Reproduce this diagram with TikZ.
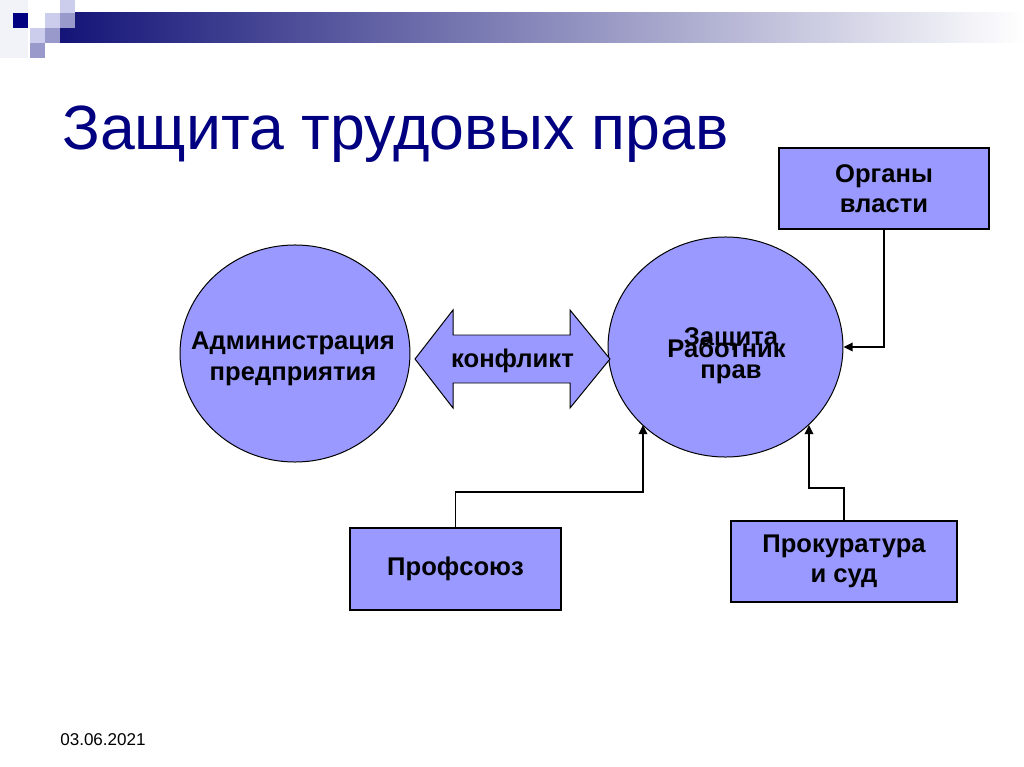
\documentclass[tikz,border=0pt]{standalone}
\usepackage{fontspec}
\setmainfont{Liberation Sans}
\usetikzlibrary{shapes.geometric, arrows.meta}

\definecolor{navy}{RGB}{0,0,128}
\definecolor{lilac}{RGB}{153,153,255}
\definecolor{sqlight}{RGB}{204,204,236}
\definecolor{sqmid}{RGB}{153,153,204}
\definecolor{bardark}{RGB}{20,20,120}
\definecolor{barmid}{RGB}{160,160,186}

\begin{document}
\begin{tikzpicture}[x=0.703125pt, y=-0.703125pt,
  ball/.style={draw=black, line width=0.7pt, fill=lilac, ellipse, inner sep=0pt},
  box/.style={draw=black, line width=0.8pt, fill=lilac, rectangle, inner sep=0pt, align=center,
    font=\bfseries\fontsize{18}{21.5}\selectfont},
  lbl/.style={align=center, inner sep=0pt, font=\bfseries\fontsize{18}{21.5}\selectfont},
  conn/.style={draw=black, line width=1.3pt, -{Triangle[length=6.5pt, width=6pt]}}]
  \useasboundingbox (0,0) rectangle (1024,767);

  % Banner
  \fill[navy!5] (0,0) rectangle (28,58);
  \shade[left color=bardark, middle color=barmid, right color=white] (60,13) rectangle (1024,43);
  \fill[navy] (13,13) rectangle (28,28);
  \fill[sqlight] (45,13) rectangle (60,28);
  \fill[sqlight] (60,0) rectangle (75,13);
  \fill[sqmid] (60,13) rectangle (75,28);
  \fill[sqlight] (30,28) rectangle (45,43);
  \fill[sqmid] (45,28) rectangle (60,43);
  \fill[sqmid] (30,43) rectangle (45,58);

  % Title
  \node[anchor=base west, inner sep=0pt, text=navy, font=\fontsize{44}{50}\selectfont]
    (title) at (62,150) {Защита трудовых прав};

  % Circles
  \node[ball, minimum width=161.7pt, minimum height=152.6pt] (adm) at (295,353.5) {};
  \node[lbl] (admtxt) at (293,359) {Администрация\\предприятия};
  \node[ball, minimum width=165.2pt, minimum height=154.7pt] (rab) at (725.5,347) {};
  \node[lbl, anchor=base] (rabtxt) at (726.5,357) {Работник};
  \node[lbl] (zashtxt) at (731,356) {Защита\\[1.5pt]прав};

  % Conflict arrow
  \draw[black, line width=0.7pt, fill=lilac]
     (415,359) -- (453,310) -- (453,335) -- (570,335) -- (570,310) -- (610,359)
     -- (570,408) -- (570,383) -- (453,383) -- (453,408) -- cycle;
  \node[lbl] (konf) at (512.5,361) {конфликт};

  % Boxes
  \node[box, minimum width=147.7pt, minimum height=57pt] (org) at (884,188.5) {Органы\\власти};
  \node[box, minimum width=158.9pt, minimum height=57pt] (prok) at (844,561.5) {Прокуратура\\и суд};
  \node[box, minimum width=148.4pt, minimum height=57.7pt] (prof) at (455.5,569) {Профсоюз};

  % Connectors
  \coordinate (pbend) at (643,492);
  \coordinate (sbend) at (809,488);
  \draw[conn] (org.south) |- (rab.east);
  \draw[conn] (prof.north) |- (pbend) -- (pbend |- rab.-137);
  \draw[conn] (prok.north) |- (sbend) -- (sbend |- rab.-43);

  % Date
  \node[anchor=base west, inner sep=0pt, font=\fontsize{12}{14}\selectfont]
    (date) at (60,745) {03.06.2021};
\end{tikzpicture}
\end{document}
